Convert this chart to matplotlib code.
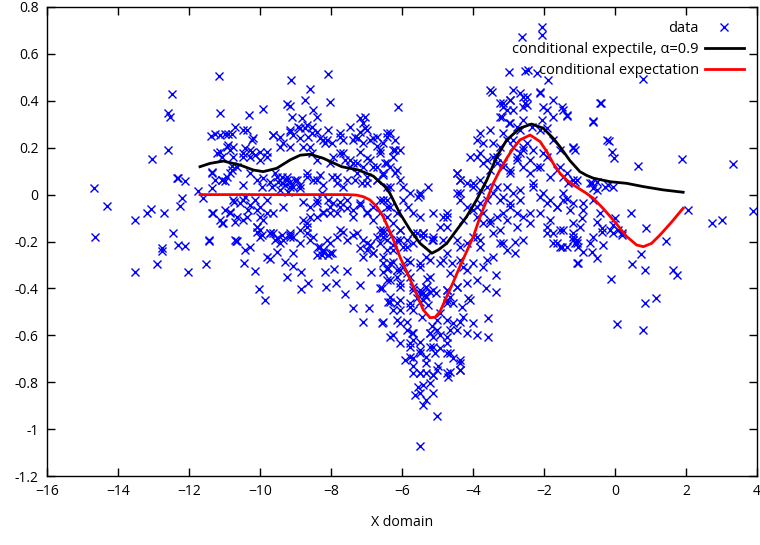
import matplotlib
matplotlib.use("Agg")
import matplotlib.pyplot as plt

plt.rcParams['font.family'] = ['Open Sans', 'DejaVu Sans']

# scatter data, grouped roughly by region (x, y)
x_left = [-14.68, -14.32, -14.65, -13.05, -12.6, -12.49, -12.6, -12.54, -12.3, -12.1, -12.35,
          -11.75, -11.6, -12.19, -12.25, -13.07, -13.19, -13.52, -12.7, -12.46, -12.32, -12.11,
          -12.77, -13.52, -12.91, -12.75, -12.02, -11.53, -11.43]
y_left = [0.03, -0.05, -0.18, 0.15, 0.19, 0.43, 0.35, 0.33, 0.07, 0.06, 0.07,
          0.015, -0.013, -0.013, -0.05, -0.06, -0.08, -0.11, -0.08, -0.165, -0.215, -0.22,
          -0.226, -0.33, -0.296, -0.239, -0.33, -0.296, -0.198]

x_b = [-11.38, -11.27, -11.13, -10.99, -10.8, -10.7, -11.15, -11.12, -11.13, -10.9, -10.75,
       -11.35, -11.08, -10.85, -11.0, -10.8, -11.34, -11.08, -10.99, -10.85, -10.7, -10.72,
       -10.66, -11.36, -10.69, -10.94, -10.85]
y_b = [0.25, 0.26, 0.254, 0.26, 0.26, 0.29, 0.506, 0.347, 0.183, 0.21, 0.204,
       0.095, 0.062, 0.09, 0.06, 0.12, -0.08, -0.122, -0.066, -0.073, -0.116, -0.03,
       -0.197, 0.03, -0.198, 0.204, 0.19]

x_c = [-10.3, -9.91, -9.13, -8.08, -8.6, -8.73, -9.25, -9.15, -8.03, -9.11, -8.83, -8.5, -8.4,
       -10.9, -10.47, -10.23, -9.63, -9.44, -9.15, -8.87, -8.73, -8.54, -8.4, -8.64, -8.87,
       -8.22, -8.17, -10.42, -10.23, -10.0, -9.81, -9.34, -9.15, -8.78, -8.59,
       -11.36, -11.27, -11.08, -10.94, -10.8, -10.66, -10.75, -10.56, -10.42, -10.33, -10.14,
       -10.0, -9.91, -9.81, -11.32, -11.13, -11.03, -10.85, -10.66, -10.47, -10.09, -10.0,
       -9.72, -9.58, -9.44, -9.15, -9.06, -8.78, -8.68, -8.59, -8.4, -8.22, -8.03,
       -9.58, -9.48, -9.39, -9.3, -9.25, -9.15, -9.06, -8.97, -9.2, -9.44, -8.87, -9.67,
       -8.68, -8.5, -8.31, -10.09, -9.95, -10.28, -10.47, -11.22, -11.08, -10.75, -10.47,
       -10.28, -11.45, -10.7]
y_c = [0.339, 0.364, 0.49, 0.513, 0.449, 0.403, 0.386, 0.378, 0.396, 0.332, 0.325, 0.36, 0.332,
       0.26, 0.275, 0.233, 0.254, 0.247, 0.268, 0.283, 0.283, 0.29, 0.268, 0.247, 0.24,
       0.233, 0.219, 0.197, 0.183, 0.183, 0.162, 0.219, 0.204, 0.204, 0.204,
       0.09, 0.062, 0.062, 0.076, 0.105, 0.119, -0.023, -0.037, -0.009, -0.066, -0.023,
       -0.052, -0.108, -0.08, -0.08, -0.108, -0.122, -0.08, -0.094, -0.108, -0.137, -0.151,
       -0.165, -0.194, -0.208, -0.165, -0.179, -0.108, -0.122, -0.094, -0.094, -0.08, -0.08,
       0.091, 0.055, 0.076, 0.041, 0.076, 0.055, 0.034, 0.062, 0.012, 0.02, 0.027, 0.034,
       0.091, 0.062, 0.084, 0.062, 0.034, 0.091, 0.041, 0.176, 0.162, 0.162, 0.162,
       0.162, -0.194, -0.194]

# extra points in the dense band around x = -10 .. -6
x_c2 = [-10.38, -10.19, -9.63, -9.44, -9.15, -9.06, -8.92, -8.68, -8.54, -8.31, -8.12, -8.08,
        -7.75, -7.46, -7.23, -7.09, -6.99, -6.71, -6.43, -6.25, -6.2,
        -10.47, -10.28, -10.14, -10.0, -9.81, -8.54, -8.4, -8.03, -7.75, -7.61, -7.46, -7.18,
        -6.99, -6.81, -6.62, -6.43, -6.15,
        -9.91, -9.72, -9.53, -9.39, -9.25, -9.15, -9.01, -8.87, -8.68, -8.4, -8.22, -7.98,
        -7.84, -7.65, -7.32, -7.14, -6.99, -6.71, -6.53, -6.34,
        -10.47, -10.28, -10.09, -9.81, -9.63, -9.34, -8.78, -8.59, -8.4, -8.22, -8.03, -7.84,
        -7.75, -7.56, -7.37, -7.18, -6.99, -6.81, -6.62, -10.38, -10.0,
        -10.09, -10.0, -9.63, -9.34, -9.15, -8.87, -8.68, -8.5, -8.31, -8.12, -7.75, -7.56,
        -7.28, -7.18, -6.99, -6.81, -6.62, -6.43, -6.25, -10.28, -9.53, -9.06, -8.03]
y_c2 = [0.276, 0.24, 0.254, 0.204, 0.276, 0.254, 0.29, 0.297, 0.261, 0.24, 0.233, 0.276,
        0.261, 0.29, 0.24, 0.304, 0.276, 0.247, 0.261, 0.19, 0.233,
        0.176, 0.19, 0.169, 0.148, 0.183, 0.176, 0.148, 0.133, 0.176, 0.148, 0.119, 0.183,
        0.155, 0.119, 0.176, 0.133, 0.105,
        0.069, 0.055, 0.076, 0.048, 0.062, 0.034, 0.062, 0.041, 0.076, 0.062, 0.041, 0.076,
        0.048, 0.034, 0.062, 0.048, 0.076, 0.062, 0.084, 0.034,
        -0.023, -0.044, -0.066, -0.023, -0.08, -0.052, -0.03, -0.052, -0.037, -0.073, -0.052, -0.08,
        -0.03, -0.058, -0.094, -0.044, -0.073, -0.108, -0.08, -0.094, -0.094,
        -0.137, -0.179, -0.165, -0.194, -0.172, -0.151, -0.137, -0.179, -0.222, -0.194, -0.151, -0.194,
        -0.165, -0.229, -0.208, -0.25, -0.151, -0.194, -0.236, -0.222, -0.243, -0.25, -0.25]

x_d = [-8.4, -8.26, -8.08, -7.93, -7.75, -7.56, -7.37, -7.18, -6.99, -6.81, -6.62, -6.43,
       -7.93, -7.65, -7.46, -7.28, -7.09, -6.9, -6.71, -6.53, -7.84, -7.56, -7.28, -6.99,
       -6.71, -6.43, -7.37, -7.18, -7.65, -7.75, -7.96, -7.03, -6.82, -6.62,
       -7.18, -7.03, -7.32, -7.37, -6.9, -7.1, -6.71]
y_d = [-0.023, 0.005, -0.023, -0.037, -0.052, -0.023, -0.066, -0.037, -0.08, -0.052, -0.023, -0.052,
       0.162, 0.176, 0.148, 0.133, 0.119, 0.148, 0.119, 0.091, 0.076, 0.062, 0.091, 0.048,
       0.062, 0.034, 0.233, 0.268, 0.233, 0.247, 0.219, 0.283, 0.24, 0.19,
       0.325, 0.332, 0.247, 0.133, 0.233, 0.218, 0.206]

x_low = [-10.42, -10.44, -10.14, -10.02, -9.87, -9.81, -9.72, -9.3, -9.23, -9.06, -8.85, -8.64,
         -8.85, -8.17, -7.92, -7.54, -8.14, -7.87, -7.61, -7.37, -6.93, -7.09, -6.56, -7.18,
         -6.62, -6.4, -6.34, -8.4, -8.22, -8.26, -7.1, -6.9, -6.99, -6.82, -6.86, -6.53, -6.43,
         -10.09, -9.95, -9.72, -9.53, -9.39, -9.15, -8.87, -8.68, -8.59, -8.36, -8.22, -8.03,
         -7.84, -7.65, -7.37, -7.09, -6.9, -6.71, -6.53, -8.08, -7.98]
y_low = [-0.236, -0.29, -0.325, -0.404, -0.451, -0.265, -0.276, -0.286, -0.35, -0.305, -0.329, -0.376,
         -0.404, -0.329, -0.319, -0.325, -0.393, -0.376, -0.425, -0.485, -0.485, -0.542, -0.549, -0.386,
         -0.4, -0.457, -0.606, -0.258, -0.236, -0.258, -0.266, -0.215, -0.236, -0.249, -0.329, -0.329, -0.319,
         -0.158, -0.172, -0.165, -0.187, -0.172, -0.179, -0.208, -0.165, -0.194, -0.222, -0.243, -0.208,
         -0.179, -0.158, -0.172, -0.194, -0.215, -0.179, -0.165, -0.258, -0.251]

x_e = [-6.1, -6.43, -6.34, -6.53, -6.2, -6.06, -6.25, -6.48, -6.34, -6.2, -6.06, -5.96, -5.77,
       -5.54, -5.26, -6.53, -6.34, -6.15, -5.96, -5.82, -5.68, -5.49, -6.53, -6.34, -6.06, -5.87,
       -5.59, -5.4, -5.12, -4.84, -4.74, -5.49, -4.84, -4.46, -4.37, -5.12, -4.93]
y_e = [0.375, 0.247, 0.261, 0.219, 0.19, 0.19, 0.162, 0.133, 0.119, 0.091, 0.062, 0.034, 0.005,
       -0.009, 0.034, -0.023, -0.052, -0.08, -0.023, -0.052, -0.08, -0.094, -0.151, -0.165, -0.151, -0.194,
       -0.165, -0.179, -0.179, -0.194, -0.08, 0.005, -0.094, 0.091, 0.062, -0.08, -0.137]

x_dip = [-5.49, -5.02, -5.4, -5.31, -5.49, -5.63, -5.54, -5.4, -5.21, -5.12, -5.68, -5.49, -5.31,
         -5.12, -4.7, -4.65, -4.37, -4.37, -5.92, -5.77, -5.68, -5.49, -5.31, -5.07, -4.93, -4.74,
         -4.56, -5.77, -5.68, -5.49, -5.21, -5.12, -4.93, -4.74, -4.65, -4.46, -6.25, -5.73, -5.21,
         -4.18, -3.9, -3.57, -6.53, -6.15, -6.06, -5.87, -5.02, -4.74, -4.56, -4.37, -3.57,
         -6.34, -6.15, -6.06, -5.77, -5.68, -5.49, -5.4, -5.31, -5.21, -4.74, -4.56, -4.32, -4.13,
         -6.57, -6.34, -6.15, -6.06, -5.87, -5.68, -5.49, -5.31, -4.74, -4.46, -4.18, -3.62, -3.34,
         -3.34, -6.53, -6.39, -6.25, -6.06, -5.96, -5.77, -5.49, -5.21, -4.84, -4.6, -4.27, -3.99,
         -3.61, -3.43, -3.05, -2.82, -2.82, -6.62, -6.43, -6.25, -6.06, -5.87, -5.68, -5.4, -5.16,
         -4.74, -4.37, -4.18, -3.8, -3.43, -3.24, -1.92, -1.74, -1.55, -1.13, -1.08,
         -5.35, -5.26, -5.45, -5.15, -5.58, -5.3, -5.05, -4.98]
y_dip = [-1.072, -0.943, -0.897, -0.876, -0.848, -0.855, -0.819, -0.812, -0.805, -0.848, -0.762, -0.762, -0.762,
         -0.769, -0.777, -0.755, -0.748, -0.719, -0.705, -0.691, -0.698, -0.677, -0.691, -0.677, -0.655, -0.677,
         -0.698, -0.634, -0.62, -0.627, -0.648, -0.606, -0.599, -0.634, -0.577, -0.577, -0.599, -0.592, -0.592,
         -0.592, -0.599, -0.606, -0.542, -0.535, -0.549, -0.542, -0.535, -0.535, -0.549, -0.542, -0.528,
         -0.457, -0.464, -0.492, -0.478, -0.492, -0.457, -0.421, -0.435, -0.414, -0.449, -0.464, -0.478, -0.442,
         -0.4, -0.364, -0.35, -0.378, -0.336, -0.393, -0.407, -0.393, -0.407, -0.393, -0.378, -0.4, -0.414,
         -0.343, -0.293, -0.314, -0.286, -0.322, -0.307, -0.286, -0.293, -0.279, -0.279, -0.293, -0.307, -0.293,
         -0.279, -0.265, -0.236, -0.25, -0.201, -0.208, -0.236, -0.215, -0.194, -0.222, -0.208, -0.165, -0.194,
         -0.25, -0.222, -0.208, -0.194, -0.165, -0.208, -0.165, -0.208, -0.222, -0.208, -0.293,
         -0.43, -0.47, -0.52, -0.56, -0.44, -0.36, -0.42, -0.73]

# extra points inside the V
x_dip2 = [-6.43, -5.49, -4.37, -6.43, -6.25, -6.06, -6.53, -6.15, -5.96, -5.68, -5.4, -5.12,
          -4.74, -4.74, -4.46, -4.27, -3.99, -3.8, -3.71, -3.99, -3.8,
          -6.53, -6.34, -6.15, -5.87, -5.77, -5.49, -5.31, -5.21, -4.93, -4.65, -4.37, -4.18,
          -3.9, -3.71, -4.46, -4.74, -6.43, -6.06,
          -5.68, -5.49, -5.31, -5.12, -5.4, -5.77, -6.06, -6.25, -6.34, -4.74, -4.65, -4.27,
          -4.08, -3.99, -4.93,
          -5.87, -5.68, -5.21, -5.02, -4.74, -6.06, -5.77, -5.49, -5.12, -4.65, -4.37, -5.68,
          -5.31, -5.02, -5.49, -5.12, -4.37, -4.74]
y_dip2 = [-0.023, -0.002, 0.005, -0.094, -0.122, -0.151, -0.179, -0.194, -0.222, -0.165, -0.165, -0.194,
          -0.094, -0.137, -0.194, -0.108, -0.066, -0.037, -0.122, -0.179, -0.222,
          -0.265, -0.293, -0.322, -0.279, -0.35, -0.307, -0.265, -0.35, -0.293, -0.336, -0.279, -0.322,
          -0.364, -0.307, -0.393, -0.407, -0.364, -0.393,
          -0.407, -0.421, -0.393, -0.407, -0.449, -0.464, -0.449, -0.492, -0.435, -0.464, -0.435, -0.521,
          -0.449, -0.549, -0.506,
          -0.577, -0.592, -0.592, -0.577, -0.606, -0.634, -0.648, -0.663, -0.648, -0.677, -0.705, -0.733,
          -0.719, -0.748, -0.762, -0.769, -0.748, -0.762]

x_f = [-2.05, -2.05, -2.63, -3.0, -2.54, -2.44, -2.21, -1.88, -3.52, -2.87, -2.68, -2.49, -2.96,
       -2.54, -2.11, -3.24, -3.15, -3.05, -2.87, -2.58, -2.02, -1.74, -1.5, -1.36, -3.19, -3.0,
       -2.77, -2.58, -2.35, -2.11, -1.92, -1.74, -3.8, -3.71, -3.43, -3.24, -3.05, -2.87, -2.68,
       -2.49, -2.3, -2.02, -1.55, -1.17, -3.8, -3.61, -3.43, -3.33, -3.15, -2.96, -2.77, -2.58,
       -2.39, -2.11, -1.83, -1.55, -1.36, -4.46, -4.37, -4.18, -3.99, -3.8, -3.61, -3.43, -3.24,
       -3.05, -2.87, -2.68, -2.3, -2.02, -1.83, -1.64, -1.46, -1.17, -4.46, -4.37, -4.18, -3.9,
       -3.71, -3.52, -3.33, -3.15, -2.96, -2.77, -2.58, -2.39, -2.11, -1.92, -1.74, -1.46, -1.17,
       -3.52, -3.9, -4.08]
y_f = [0.713, 0.68, 0.67, 0.524, 0.527, 0.531, 0.517, 0.489, 0.446, 0.446, 0.432, 0.417, 0.403,
       0.389, 0.439, 0.389, 0.375, 0.36, 0.36, 0.375, 0.375, 0.403, 0.375, 0.339, 0.332, 0.304,
       0.29, 0.318, 0.29, 0.276, 0.283, 0.233, 0.261, 0.219, 0.219, 0.204, 0.233, 0.204, 0.176,
       0.219, 0.19, 0.176, 0.19, 0.204, 0.176, 0.148, 0.162, 0.133, 0.119, 0.091, 0.148, 0.119,
       0.091, 0.119, 0.076, 0.119, 0.091, 0.091, 0.062, 0.048, 0.034, 0.062, 0.034, 0.005, -0.023,
       0.034, 0.005, -0.023, 0.034, 0.005, -0.023, -0.052, -0.023, -0.037, 0.005, -0.023, -0.052, -0.052,
       -0.08, -0.108, -0.094, -0.08, -0.052, -0.08, -0.094, -0.122, -0.08, -0.137, -0.165, -0.151, -0.165,
       0.276, 0.233, 0.162]

# extra points on the right hump
x_f2 = [-3.47, -3.15, -2.96, -2.58, -2.49, -2.11, -1.92, -1.74, -2.06, -3.24, -2.96, -3.15,
        -2.68, -2.87, -2.58, -0.42, -0.61,
        -3.9, -3.71, -3.52, -3.33, -3.15, -2.96, -2.77, -2.58, -2.39, -2.21, -1.92, -1.64,
        -1.46, -1.08, -0.7, -0.52, -0.23,
        -3.99, -3.8, -3.61, -3.33, -3.15, -2.96, -2.68, -2.3, -2.11, -1.92, -1.64, -1.46,
        -1.27, -0.89, -0.61, -0.42,
        -3.9, -3.52, -3.24, -3.05, -2.77, -2.39, -1.83, -1.55, -1.17, -0.99, -0.61, -3.9,
        -3.15, -2.58, -1.64, -1.08]
y_f2 = [0.439, 0.389, 0.403, 0.417, 0.382, 0.432, 0.36, 0.332, 0.318, 0.332, 0.304, 0.261,
        0.276, 0.233, 0.204, 0.389, 0.311,
        0.162, 0.133, 0.105, 0.162, 0.133, 0.105, 0.162, 0.19, 0.148, 0.119, 0.162, 0.105,
        0.076, 0.062, 0.048, 0.02, 0.233,
        0.048, 0.02, -0.023, 0.034, -0.009, -0.037, 0.02, 0.048, -0.009, -0.037, -0.052, 0.005,
        -0.066, -0.037, -0.023, -0.08,
        -0.094, -0.122, -0.151, -0.108, -0.137, -0.08, -0.108, -0.151, -0.194, -0.137, -0.179, -0.179,
        -0.208, -0.194, -0.208, -0.208]

x_g = [0.8, -0.4, -0.61, -1.46, -1.36, -0.16, -0.09, -0.03, -1.17, -1.13, 0.66, 1.9, 3.33,
       -1.17, -1.32, -1.13, -0.66, -0.61, -0.52, -0.28, -0.05, -0.19, 2.05, 3.9, 2.72, 3.02,
       0.87, 1.44, 0.44, 0.0, -0.89, -0.94, -1.17, -1.17, -1.08, -0.7, -0.33, -0.52, -0.38,
       -0.14, -0.05, 0.09, 0.19, 0.72, 0.85, 0.47, 1.64, 1.76, -0.12, 0.85, 1.15, 0.06, 0.8,
       -1.03, -0.52, -0.66, -0.89, -1.03, -1.36, -1.5, -0.38, -0.05, 0.21, -1.36]
y_g = [0.492, 0.39, 0.315, 0.36, 0.335, 0.23, 0.183, 0.155, 0.197, 0.19, 0.122, 0.152, 0.129,
       0.062, 0.051, 0.055, 0.048, 0.027, 0.055, 0.034, 0.031, 0.041, -0.066, -0.07, -0.12, -0.108,
       -0.141, -0.197, -0.08, -0.101, -0.066, -0.101, -0.122, -0.179, -0.194, -0.208, -0.215, -0.116, -0.144,
       -0.151, -0.13, -0.151, -0.172, -0.253, -0.322, -0.296, -0.322, -0.343, -0.361, -0.461, -0.44, -0.553, -0.577,
       -0.293, -0.269, -0.243, -0.243, -0.222, -0.222, -0.222, -0.158, -0.162, -0.165, -0.02]

data_x = x_left + x_b + x_c + x_c2 + x_d + x_low + x_e + x_dip + x_dip2 + x_f + x_f2 + x_g
data_y = y_left + y_b + y_c + y_c2 + y_d + y_low + y_e + y_dip + y_dip2 + y_f + y_f2 + y_g

# conditional expectile (alpha = 0.9)
expectile_x = [-11.69, -11.41, -11.03, -10.56, -10.19, -9.91, -9.53, -9.15, -8.87, -8.59, -8.22,
               -7.7, -7.23, -6.81, -6.48, -6.34, -6.06, -5.77, -5.49, -5.16, -4.98, -4.74, -4.46,
               -4.18, -3.9, -3.61, -3.33, -3.05, -2.68, -2.35, -2.02, -1.74, -1.55, -1.27, -0.99,
               -0.8, -0.61, -0.14, 0.33, 0.8, 1.36, 1.92]
expectile_y = [0.119, 0.133, 0.143, 0.126, 0.105, 0.098, 0.112, 0.148, 0.168, 0.172, 0.155,
               0.119, 0.105, 0.079, 0.034, 0.005, -0.08, -0.151, -0.208, -0.25, -0.236, -0.208, -0.151,
               -0.094, -0.023, 0.062, 0.162, 0.233, 0.283, 0.301, 0.283, 0.24, 0.204, 0.145, 0.098,
               0.082, 0.07, 0.055, 0.048, 0.034, 0.02, 0.01]

# conditional expectation
expect_x = [-11.69, -10.0, -9.0, -8.0, -7.56, -7.28, -7.09, -6.9, -6.71, -6.53, -6.34, -6.2,
            -6.06, -5.87, -5.68, -5.54, -5.4, -5.21, -5.07, -4.93, -4.74, -4.55, -4.37, -4.18,
            -3.99, -3.8, -3.61, -3.43, -3.24, -3.05, -2.87, -2.68, -2.39, -2.11, -1.92, -1.74,
            -1.55, -1.36, -1.17, -0.8, -0.61, -0.33, -0.05, 0.33, 0.61, 0.8, 1.03, 1.27, 1.6, 1.92]
expect_y = [0.0, 0.0, 0.0, 0.0, 0.0, -0.002, -0.009, -0.023, -0.052, -0.094, -0.158, -0.208,
            -0.265, -0.329, -0.393, -0.442, -0.492, -0.525, -0.523, -0.499, -0.435, -0.371, -0.307, -0.243,
            -0.179, -0.094, -0.023, 0.048, 0.105, 0.155, 0.197, 0.233, 0.254, 0.226, 0.183, 0.133,
            0.091, 0.062, 0.041, 0.005, -0.016, -0.06, -0.108, -0.179, -0.215, -0.222, -0.208, -0.172, -0.116, -0.058]

fig = plt.figure(figsize=(7.6, 5.45), dpi=100)
ax = fig.add_axes([47 / 760, 1 - 476 / 545, 710 / 760, 469 / 545])

ax.plot(data_x, data_y, 'x', color='#0000ff', markersize=6, markeredgewidth=1.0,
        label='data', zorder=2)
ax.plot(expectile_x, expectile_y, color='black', linewidth=2.0,
        label='conditional expectile, α=0.9', zorder=3)
ax.plot(expect_x, expect_y, color='#ff0000', linewidth=2.0,
        label='conditional expectation', zorder=3)

ax.set_xlim(-16, 4)
ax.set_ylim(-1.2, 0.8)
ax.set_xticks(range(-16, 5, 2))
yt = [-1.2, -1.0, -0.8, -0.6, -0.4, -0.2, 0.0, 0.2, 0.4, 0.6, 0.8]
ax.set_yticks(yt)
ax.set_yticklabels(['%g' % round(v, 1) for v in yt])
ax.tick_params(direction='in', length=6, width=1, top=True, right=True, labelsize=10, pad=6)
for s in ax.spines.values():
    s.set_linewidth(1.0)
ax.set_xlabel('X domain', fontsize=10.2, labelpad=11)

ax.legend(loc='upper right', bbox_to_anchor=((744 - 47) / 710, (476 - 21) / 469),
          frameon=False, markerfirst=False, fontsize=10.5, handlelength=2.7,
          handletextpad=0.4, labelspacing=0.42, borderpad=0, borderaxespad=0)

fig.savefig('out.png', dpi=100)
